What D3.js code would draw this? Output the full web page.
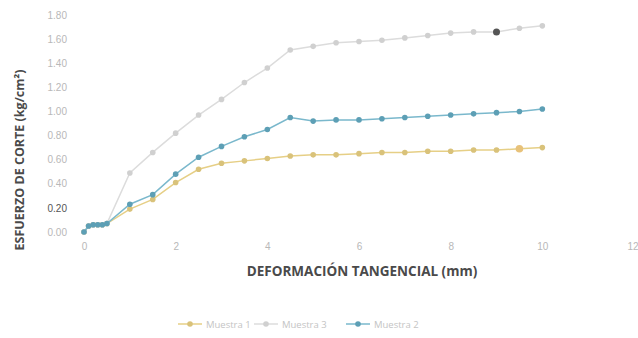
<!DOCTYPE html>
<html>
<head>
<meta charset="utf-8">
<script src="https://cdn.jsdelivr.net/npm/d3@7"></script>
<style>
  body { margin: 0; background: #fff; }
  svg { display: block; font-family: "Open Sans", "Noto Sans", sans-serif; }
  .tick text { fill: #b8b8b8; font-size: 10px; }
  .title { fill: #4a4a4a; font-weight: bold; }
  .legend text { fill: #c4c4c4; font-size: 9.5px; }
</style>
</head>
<body>
<svg width="638" height="338"></svg>
<script>
// deformacion tangencial (mm)
const deformacion = [0, 0.1, 0.2, 0.3, 0.4, 0.5, 1, 1.5, 2, 2.5, 3, 3.5, 4, 4.5, 5, 5.5, 6, 6.5, 7, 7.5, 8, 8.5, 9, 9.5, 10]

// esfuerzo de corte (kg/cm2)
const muestra1 = [0, 0.05, 0.06, 0.06, 0.06, 0.07, 0.19, 0.27, 0.41, 0.52, 0.57, 0.59, 0.61, 0.63, 0.64, 0.64, 0.65, 0.66, 0.66, 0.67, 0.67, 0.68, 0.68, 0.69, 0.70]
const muestra3 = [0, 0.05, 0.06, 0.06, 0.06, 0.07, 0.49, 0.66, 0.82, 0.97, 1.10, 1.24, 1.36, 1.51, 1.54, 1.57, 1.58, 1.59, 1.61, 1.63, 1.65, 1.66, 1.66, 1.69, 1.71]
const muestra2 = [0, 0.05, 0.06, 0.06, 0.06, 0.07, 0.23, 0.31, 0.48, 0.62, 0.71, 0.79, 0.85, 0.95, 0.92, 0.93, 0.93, 0.94, 0.95, 0.96, 0.97, 0.98, 0.99, 1.00, 1.02]

const xTicks = [0, 2, 4, 6, 8, 10, 12]
const yTicks = [0, 0.2, 0.4, 0.6, 0.8, 1.0, 1.2, 1.4, 1.6, 1.8]

const series = [
  { name: "Muestra 1", values: muestra1, color: "#e6cf86", marker: "#d9c27a" },
  { name: "Muestra 3", values: muestra3, color: "#dcdcdc", marker: "#d0d0d0" },
  { name: "Muestra 2", values: muestra2, color: "#7ab8cc", marker: "#5d9fb5" }
]

const svg = d3.select("svg")

const x = d3.scaleLinear().domain([0, 12]).range([84, 634])
const y = d3.scaleLinear().domain([0, 1.8]).range([232, 15])

const hundredths = d3.format(".2f")

svg.append("g")
  .attr("transform", "translate(0,240)")
  .call(d3.axisBottom(x).tickValues(xTicks).tickSize(0).tickFormat(d3.format("d")))
  .call(g => g.select(".domain").remove())
  // last label sits on the edge, keep it inside
  .call(g => g.selectAll(".tick text").filter(d => d === 12).attr("text-anchor", "end").attr("dx", 4))

svg.append("g")
  .attr("transform", "translate(70,0)")
  .call(d3.axisLeft(y).tickValues(yTicks).tickSize(0).tickFormat(hundredths))
  .call(g => g.select(".domain").remove())

// the 0.20 label prints darker in the scan
svg.selectAll(".tick text").filter(d => d === 0.2).style("fill", "#555")

const line = d3.line()
  .x((d, i) => x(deformacion[i]))
  .y(d => y(d))

const groups = svg.selectAll("g.serie")
  .data(series)
  .enter()
  .append("g")
  .attr("class", "serie")

groups.append("path")
  .attr("fill", "none")
  .attr("stroke", d => d.color)
  .attr("stroke-width", 1.5)
  .attr("d", d => line(d.values))

groups.selectAll("circle")
  .data(d => d.values.map(v => ({ v: v, s: d })))
  .enter()
  .append("circle")
  .attr("cx", (d, i) => x(deformacion[i]))
  .attr("cy", d => y(d.v))
  .attr("r", 2.8)
  .attr("fill", d => d.s.marker)

// marked points on the scanned sheet
svg.append("circle")
  .attr("cx", x(deformacion[22]))
  .attr("cy", y(muestra3[22]))
  .attr("r", 3.5)
  .attr("fill", "#555")
svg.append("circle")
  .attr("cx", x(deformacion[23]))
  .attr("cy", y(muestra1[23]))
  .attr("r", 3.8)
  .attr("fill", "#e8c27a")

// axis titles
svg.append("text")
  .attr("class", "title")
  .attr("x", 362)
  .attr("y", 276)
  .attr("text-anchor", "middle")
  .style("font-size", "13.5px")
  .text("DEFORMACIÓN TANGENCIAL (mm)")

svg.append("text")
  .attr("class", "title")
  .attr("transform", "translate(24,160) rotate(-90)")
  .attr("text-anchor", "middle")
  .style("font-size", "12.5px")
  .text("ESFUERZO DE CORTE (kg/cm²)")

// legend
const legendX = [178, 254, 346]
const legend = svg.selectAll("g.legend")
  .data(series)
  .enter()
  .append("g")
  .attr("class", "legend")
  .attr("transform", (d, i) => "translate(" + legendX[i] + ",324)")

legend.append("line")
  .attr("x1", 0).attr("x2", 24)
  .attr("stroke", d => d.color)
  .attr("stroke-width", 1.5)

legend.append("circle")
  .attr("cx", 12)
  .attr("r", 2.8)
  .attr("fill", d => d.marker)

legend.append("text")
  .attr("x", 28)
  .attr("y", 3.5)
  .text(d => d.name)
</script>
</body>
</html>
